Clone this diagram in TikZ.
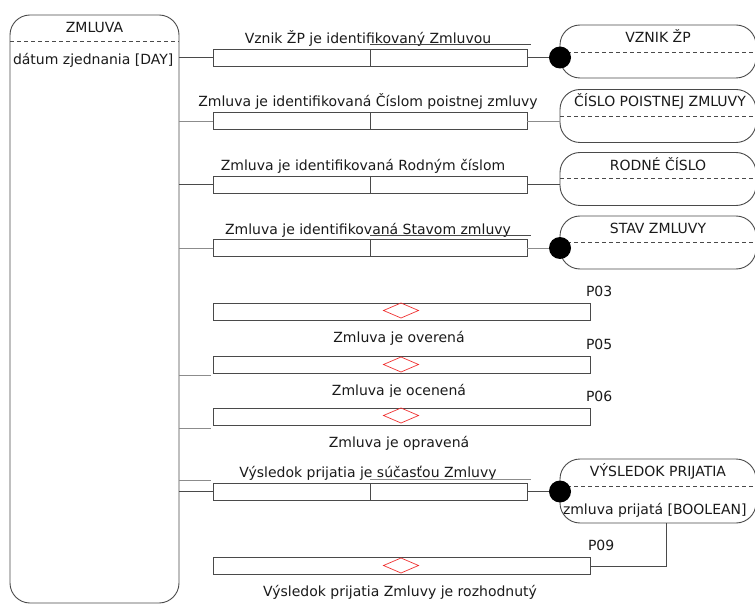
\documentclass[tikz,border=0pt]{standalone}
\usepackage{fontspec}
\setmainfont{DejaVu Sans}
\usetikzlibrary{shapes.geometric,calc}
\definecolor{edge}{HTML}{4A4A4A}
\definecolor{lightedge}{HTML}{8C8C8C}
\definecolor{ink}{HTML}{1A1A1A}
\definecolor{marker}{HTML}{F03030}

\begin{document}
\begin{tikzpicture}[x=1pt,y=-1pt,
  every node/.style={inner sep=0pt, outer sep=0pt},
  lbl/.style={font=\fontsize{14}{16}\selectfont, text=ink, anchor=base},
  lblw/.style={lbl, anchor=base west},
  bar/.style={draw=edge, line width=0.9pt, fill=white, minimum height=17pt},
  pair/.style={bar, minimum width=314pt},
  wide/.style={bar, minimum width=377pt},
  ent/.style={draw=edge, line width=0.9pt, rounded corners=20pt, minimum width=196pt, minimum height=53pt},
  sep/.style={draw=edge, line width=0.8pt, dash pattern=on 4pt off 3pt},
  link/.style={draw=edge, line width=0.9pt},
  faint/.style={draw=lightedge, line width=0.9pt},
  dot/.style={circle, fill=black, minimum size=22pt},
  gem/.style={diamond, draw=marker, line width=0.7pt, minimum width=35pt, minimum height=15pt, inner sep=0pt},
]
\useasboundingbox (0,0) rectangle (755,604);

% ---- main class ZMLUVA
\node[draw=edge, line width=0.9pt, rounded corners=20pt, minimum width=169pt, minimum height=588pt] (zm) at (94.5,309) {};
\draw[sep] (zm.west |- 0,41.7) -- (zm.east |- 0,41.7);
\node[lbl] (zmt) at (94.5,32.5) {ZMLUVA};
\node[lblw] (zma) at (13,65) {dátum zjednania [DAY]};

% ---- related classes on the right
\node[ent] (e1) at (658,51.5) {};
\draw[sep] (e1.west |- 0,52) -- (e1.east |- 0,52);
\node[lbl] (e1t) at (658,43) {VZNIK ŽP};

\node[ent] (e2) at (658,116) {};
\draw[sep] (e2.west |- 0,116) -- (e2.east |- 0,116);
\node[lbl] (e2t) at (660,106.5) {ČÍSLO POISTNEJ ZMLUVY};

\node[ent] (e3) at (658,179) {};
\draw[sep] (e3.west |- 0,178) -- (e3.east |- 0,178);
\node[lbl] (e3t) at (658,170.5) {RODNÉ ČÍSLO};

\node[ent] (e4) at (658,242.5) {};
\draw[sep] (e4.west |- 0,242) -- (e4.east |- 0,242);
\node[lbl] (e4t) at (658,233.5) {STAV ZMLUVY};

\node[ent, minimum height=64pt] (e9) at (658,491) {};
\draw[sep] (e9.west |- 0,486) -- (e9.east |- 0,486);
\node[lbl] (e9t) at (658,476.5) {VÝSLEDOK PRIJATIA};
\node[lblw] (e9a) at (563,514) {zmluva prijatá [BOOLEAN]};

% ---- two-part relation bars
\node[pair] (b1) at (370,57.5) {};
\node[pair] (b2) at (370,121) {};
\node[pair] (b3) at (370,184.5) {};
\node[pair] (b4) at (370,248) {};
\node[pair] (b9) at (370,491.5) {};
\foreach \b in {b1,b2,b3,b4,b9} { \draw[link] (\b.north) -- (\b.south); }

\node[lbl] (t1) at (368,43.5) {Vznik ŽP je identifikovaný Zmluvou};
\node[lbl] (t2) at (368,107) {Zmluva je identifikovaná Číslom poistnej zmluvy};
\node[lbl] (t3) at (363,170.5) {Zmluva je identifikovaná Rodným číslom};
\node[lbl] (t4) at (368,234) {Zmluva je identifikovaná Stavom zmluvy};
\node[lbl] (t9) at (368,477) {Výsledok prijatia je súčasťou Zmluvy};

\coordinate (u1a) at (370,44);  \coordinate (u1b) at (531,44);
\coordinate (u4a) at (370,235); \coordinate (u4b) at (531,235);
\coordinate (u9a) at (370,479); \coordinate (u9b) at (531,479);
\draw[link] (u1a) -- (u1b);
\draw[link] (u4a) -- (u4b);
\draw[faint] (u9a) -- (u9b);

% ---- process bars with decision marks
\node[wide] (p3) at (401.5,311.5) {};
\node[wide] (p5) at (401.5,365) {};
\node[wide] (p6) at (401.5,417) {};
\node[wide] (p9) at (401.5,566) {};
\node[gem] (g3) at (401,310.5) {};
\node[gem] (g5) at (401,364.5) {};
\node[gem] (g6) at (401,415.5) {};
\node[gem] (g9) at (401,565.5) {};

\node[lblw] (c3) at (586,296.5) {P03};
\node[lblw] (c5) at (586,349) {P05};
\node[lblw] (c6) at (586,401.5) {P06};
\node[lblw] (c9) at (588,550.5) {P09};

\begin{scope}
  \clip (200,325) rectangle (620,344.5);
  \node[lbl] (n3) at (399,342.7) {Zmluva je overená};
\end{scope}
\begin{scope}
  \clip (200,378) rectangle (620,396.8);
  \node[lbl] (n5) at (399,395) {Zmluva je ocenená};
\end{scope}
\begin{scope}
  \clip (200,430) rectangle (620,449);
  \node[lbl] (n6) at (399,447) {Zmluva je opravená};
\end{scope}
\node[lbl] (n9) at (400,596) {Výsledok prijatia Zmluvy je rozhodnutý};

% ---- connectors from ZMLUVA
\draw[link] (zm.east |- b1.west) -- (b1.west);
\draw[faint] (zm.east |- b2.west) -- (b2.west);
\draw[link] (zm.east |- b3.west) -- (b3.west);
\draw[faint] (zm.east |- b4.west) -- (b4.west);
\coordinate (a5) at (211,375);
\coordinate (a6) at (211,428);
\coordinate (a8) at (211,480);
\draw[faint] (zm.east |- a5) -- (a5);
\draw[faint] (zm.east |- a6) -- (a6);
\draw[faint] (zm.east |- a8) -- (a8);
\draw[link] (zm.east |- b9.west) -- (b9.west);

% ---- connectors to the right-hand classes
\node[dot] (d1) at (e1.west |- b1.east) {};
\node[dot] (d4) at (e4.west |- b4.east) {};
\node[dot] (d9) at (e9.west |- b9.east) {};
\draw[link] (b1.east) -- (d1);
\draw[faint] (b2.east) -- (e2.west |- b2.east);
\draw[link] (b3.east) -- (e3.west |- b3.east);
\draw[faint] (b4.east) -- (d4);
\draw[link] (b9.east) -- (d9);
\coordinate (k9) at ($(e9.south)+(8,0)$);
\draw[link] (p9.east) -| (k9);
\end{tikzpicture}
\end{document}
